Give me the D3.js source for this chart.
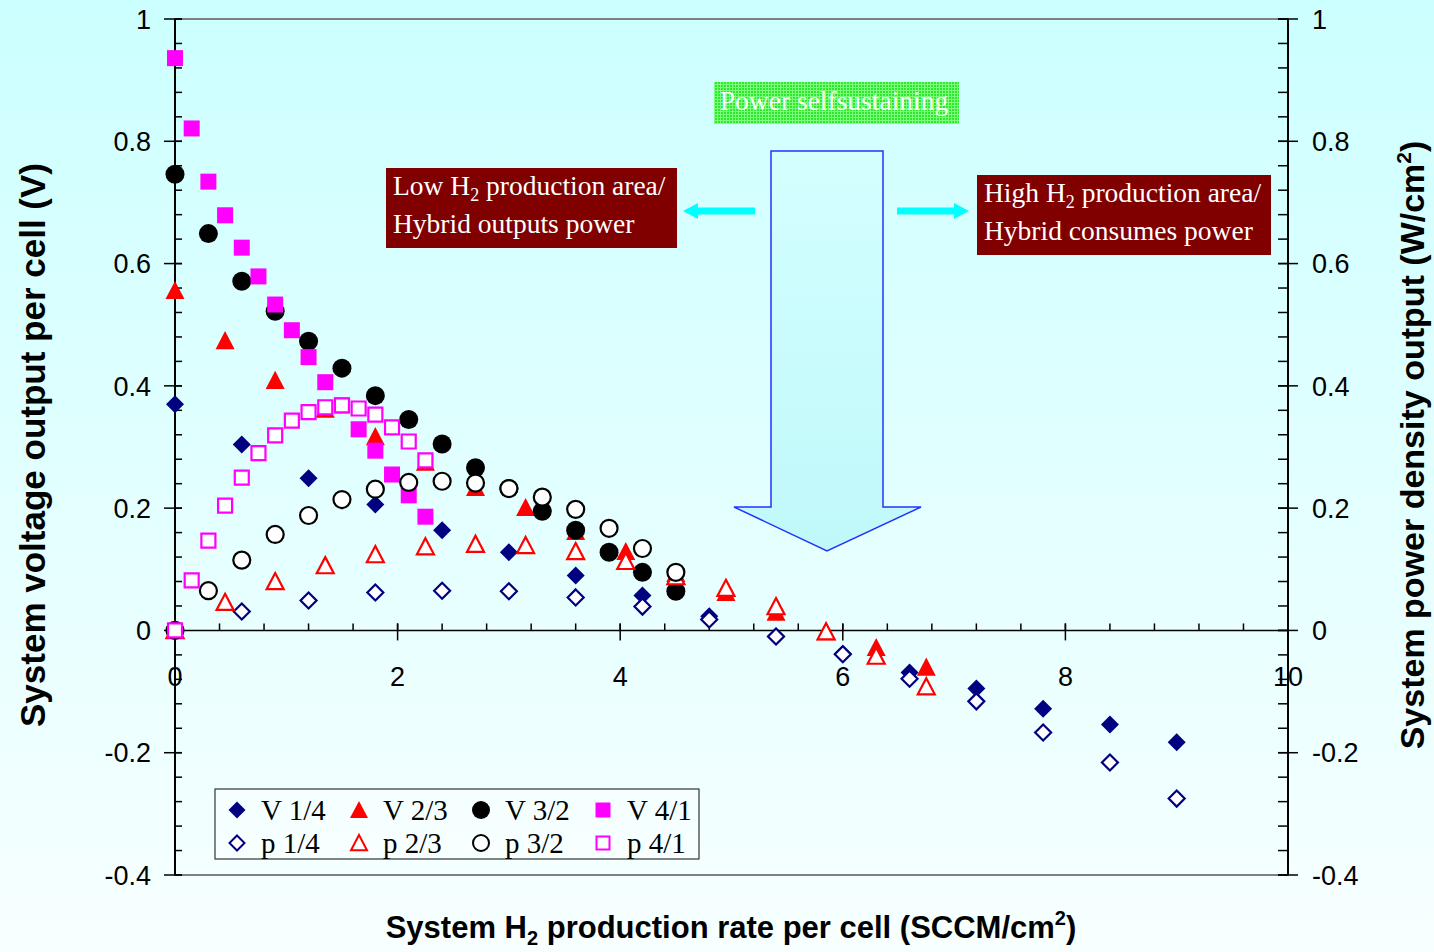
<!DOCTYPE html>
<html>
<head>
<meta charset="utf-8">
<script src="https://cdn.jsdelivr.net/npm/d3@7"></script>
<style>
  body { margin: 0; padding: 0; overflow: hidden; }
  svg { display: block; }
</style>
</head>
<body>
<div id="chart"></div>
<script>
// series data (x = H2 rate, v = voltage, p = power density)
var x14 = [0, 0.6, 1.2, 1.8, 2.4, 3.0, 3.6, 4.2, 4.8, 5.4, 6.0, 6.6, 7.2, 7.8, 8.4, 9.0];
var v14 = [0.370, 0.304, 0.249, 0.206, 0.164, 0.128, 0.090, 0.057, 0.023, -0.010, -0.038, -0.069, -0.095, -0.128, -0.154, -0.183];
var p14 = [0, 0.031, 0.049, 0.062, 0.065, 0.064, 0.054, 0.039, 0.018, -0.010, -0.039, -0.079, -0.116, -0.167, -0.216, -0.275];

var x23 = [0, 0.45, 0.9, 1.35, 1.8, 2.25, 2.7, 3.15, 3.6, 4.05, 4.5, 4.95, 5.4, 5.85, 6.3, 6.75];
var v23 = [0.556, 0.474, 0.409, 0.362, 0.317, 0.275, 0.234, 0.201, 0.162, 0.129, 0.093, 0.062, 0.030, -0.002, -0.028, -0.060];
var p23 = [0, 0.046, 0.080, 0.106, 0.124, 0.137, 0.141, 0.139, 0.129, 0.113, 0.088, 0.069, 0.039, -0.002, -0.042, -0.092];

var x32 = [0, 0.3, 0.6, 0.9, 1.2, 1.5, 1.8, 2.1, 2.4, 2.7, 3.0, 3.3, 3.6, 3.9, 4.2, 4.5];
var v32 = [0.746, 0.649, 0.571, 0.522, 0.473, 0.429, 0.384, 0.345, 0.305, 0.266, 0.232, 0.195, 0.164, 0.128, 0.095, 0.064];
var p32 = [0, 0.065, 0.115, 0.157, 0.188, 0.214, 0.231, 0.242, 0.244, 0.241, 0.232, 0.218, 0.198, 0.167, 0.134, 0.095];

var x41 = [0, 0.15, 0.3, 0.45, 0.6, 0.75, 0.9, 1.05, 1.2, 1.35, 1.5, 1.65, 1.8, 1.95, 2.1, 2.25];
var v41 = [0.936, 0.821, 0.734, 0.679, 0.626, 0.579, 0.533, 0.491, 0.447, 0.406, 0.368, 0.329, 0.294, 0.255, 0.221, 0.186];
var p41 = [0, 0.082, 0.147, 0.204, 0.250, 0.290, 0.319, 0.343, 0.357, 0.365, 0.368, 0.363, 0.353, 0.332, 0.309, 0.278];

var xTicks = [0, 2, 4, 6, 8, 10];
var yTicks = [-0.4, -0.2, 0, 0.2, 0.4, 0.6, 0.8, 1];

var width = 1434, height = 952;
var margins = { top: 19, right: 146, bottom: 77, left: 175 };
var chartWidth = width - margins.left - margins.right;
var chartHeight = height - margins.top - margins.bottom;

var svg = d3.select('#chart').append('svg')
    .attr('width', width)
    .attr('height', height);

var defs = svg.append('defs');
var bg = defs.append('linearGradient').attr('id', 'bg')
    .attr('x1', 0).attr('y1', 0).attr('x2', 0).attr('y2', 1);
bg.append('stop').attr('offset', '0%').attr('stop-color', '#ccffff');
bg.append('stop').attr('offset', '100%').attr('stop-color', '#f8ffff');

var arrowGrad = defs.append('linearGradient').attr('id', 'arrowGrad')
    .attr('x1', 0).attr('y1', 0).attr('x2', 0).attr('y2', 1);
arrowGrad.append('stop').attr('offset', '0%').attr('stop-color', '#d4ffff');
arrowGrad.append('stop').attr('offset', '100%').attr('stop-color', '#c0f8fa');

var pat = defs.append('pattern').attr('id', 'greenPat')
    .attr('width', 3).attr('height', 3).attr('patternUnits', 'userSpaceOnUse');
pat.append('rect').attr('width', 3).attr('height', 3).attr('fill', '#2ee82e');
pat.append('path').attr('d', 'M0,0.5H3M0.5,0V3').attr('stroke', '#7dff7d').attr('stroke-width', 1);

svg.append('rect').attr('width', width).attr('height', height).attr('fill', 'url(#bg)');

var chart = svg.append('g')
    .attr('transform', 'translate(' + margins.left + ',' + margins.top + ')');

var xScale = d3.scaleLinear().domain([0, 10]).range([0, chartWidth]);
var yScale = d3.scaleLinear().domain([-0.4, 1]).range([chartHeight, 0]);

var fmt = function(d) { return String(+d.toFixed(1)); };

// plot frame (grey top / bottom)
chart.append('rect')
    .attr('width', chartWidth).attr('height', chartHeight)
    .attr('fill', 'none').attr('stroke', '#808080').attr('stroke-width', 2);

var sansFont = '"Liberation Sans", Arial, sans-serif';
var serifFont = '"Liberation Serif", "Times New Roman", serif';

// left axis
var leftAxis = chart.append('g');
leftAxis.append('line').attr('x1', 0).attr('x2', 0).attr('y1', 0).attr('y2', chartHeight)
    .attr('stroke', '#000').attr('stroke-width', 2);
var minorY = d3.range(0, 36).map(function(i) { return -0.4 + i * 0.04; });
leftAxis.selectAll('.minor').data(minorY).enter().append('line')
    .attr('x1', 0).attr('x2', 7)
    .attr('y1', function(d) { return yScale(d); }).attr('y2', function(d) { return yScale(d); })
    .attr('stroke', '#000').attr('stroke-width', 1.5);
leftAxis.selectAll('.major').data(yTicks).enter().append('line')
    .attr('x1', -11).attr('x2', 7)
    .attr('y1', function(d) { return yScale(d); }).attr('y2', function(d) { return yScale(d); })
    .attr('stroke', '#000').attr('stroke-width', 1.5);
leftAxis.selectAll('text').data(yTicks).enter().append('text')
    .attr('x', -24).attr('y', function(d) { return yScale(d); })
    .attr('dy', '0.36em').attr('text-anchor', 'end')
    .style('font-family', sansFont).style('font-size', '27px')
    .text(fmt);

// right axis
var rightAxis = chart.append('g').attr('transform', 'translate(' + chartWidth + ',0)');
rightAxis.append('line').attr('x1', 0).attr('x2', 0).attr('y1', 0).attr('y2', chartHeight)
    .attr('stroke', '#000').attr('stroke-width', 2);
rightAxis.selectAll('.minor').data(minorY).enter().append('line')
    .attr('x1', -10).attr('x2', 0)
    .attr('y1', function(d) { return yScale(d); }).attr('y2', function(d) { return yScale(d); })
    .attr('stroke', '#000').attr('stroke-width', 1.5);
rightAxis.selectAll('.major').data(yTicks).enter().append('line')
    .attr('x1', -10).attr('x2', 10)
    .attr('y1', function(d) { return yScale(d); }).attr('y2', function(d) { return yScale(d); })
    .attr('stroke', '#000').attr('stroke-width', 1.5);
rightAxis.selectAll('text').data(yTicks).enter().append('text')
    .attr('x', 24).attr('y', function(d) { return yScale(d); })
    .attr('dy', '0.36em').attr('text-anchor', 'start')
    .style('font-family', sansFont).style('font-size', '27px')
    .text(fmt);

// x axis at y = 0
var xAxis = chart.append('g').attr('transform', 'translate(0,' + yScale(0) + ')');
xAxis.append('line').attr('x1', 0).attr('x2', chartWidth)
    .attr('stroke', '#000').attr('stroke-width', 1.5);
var minorX = d3.range(0, 26).map(function(i) { return i * 0.4; });
xAxis.selectAll('.minor').data(minorX).enter().append('line')
    .attr('x1', function(d) { return xScale(d); }).attr('x2', function(d) { return xScale(d); })
    .attr('y1', -7).attr('y2', 0)
    .attr('stroke', '#000').attr('stroke-width', 1.5);
xAxis.selectAll('.major').data(xTicks).enter().append('line')
    .attr('x1', function(d) { return xScale(d); }).attr('x2', function(d) { return xScale(d); })
    .attr('y1', -7).attr('y2', 10)
    .attr('stroke', '#000').attr('stroke-width', 1.5);

// symbols
var sym = {
    diamond: function(r) { return 'M0,' + (-r) + 'L' + r + ',0L0,' + r + 'L' + (-r) + ',0Z'; },
    triangle: function(r) { return 'M0,' + (-r) + 'L' + r + ',' + (r * 0.9) + 'L' + (-r) + ',' + (r * 0.9) + 'Z'; },
    circle: function(r) { return 'M' + r + ',0A' + r + ',' + r + ' 0 1,1 ' + (-r) + ',0A' + r + ',' + r + ' 0 1,1 ' + r + ',0Z'; },
    square: function(r) { return 'M' + (-r) + ',' + (-r) + 'H' + r + 'V' + r + 'H' + (-r) + 'Z'; }
};

var series = [
    { name: 'V 1/4', xs: x14, ys: v14, shape: 'diamond', r: 9, color: '#000080', filled: true },
    { name: 'V 2/3', xs: x23, ys: v23, shape: 'triangle', r: 9.5, color: '#ff0000', filled: true },
    { name: 'V 3/2', xs: x32, ys: v32, shape: 'circle', r: 9.5, color: '#000000', filled: true },
    { name: 'V 4/1', xs: x41, ys: v41, shape: 'square', r: 8, color: '#ff00ff', filled: true },
    { name: 'p 1/4', xs: x14, ys: p14, shape: 'diamond', r: 9, color: '#000080', filled: false },
    { name: 'p 2/3', xs: x23, ys: p23, shape: 'triangle', r: 9.5, color: '#ff0000', filled: false },
    { name: 'p 3/2', xs: x32, ys: p32, shape: 'circle', r: 9.5, color: '#000000', filled: false },
    { name: 'p 4/1', xs: x41, ys: p41, shape: 'square', r: 8, color: '#ff00ff', filled: false }
];

var marks = chart.append('g');
series.forEach(function(s) {
    var pts = s.xs.map(function(x, i) { return [x, s.ys[i]]; });
    marks.append('g').selectAll('path').data(pts).enter().append('path')
        .attr('transform', function(d) { return 'translate(' + xScale(d[0]) + ',' + yScale(d[1]) + ')'; })
        .attr('d', sym[s.shape](s.filled ? s.r : s.r - 1))
        .attr('fill', s.filled ? s.color : '#ffffff')
        .attr('stroke', s.filled ? 'none' : s.color)
        .attr('stroke-width', s.filled ? 0 : 2.2);
});

// x tick labels drawn over the markers
xAxis.selectAll('text').data(xTicks).enter().append('text')
    .attr('x', function(d) { return xScale(d); }).attr('y', 46)
    .attr('dy', '0.36em').attr('text-anchor', 'middle')
    .style('font-family', sansFont).style('font-size', '27px')
    .text(function(d) { return d; });

// legend
var legend = svg.append('g').attr('transform', 'translate(215,789)');
legend.append('rect').attr('width', 484).attr('height', 70)
    .attr('fill', '#ffffff').attr('fill-opacity', 0.35)
    .attr('stroke', '#333').attr('stroke-width', 1.2);
series.forEach(function(s, i) {
    var col = i % 4, row = Math.floor(i / 4);
    var gx = 22 + col * 122, gy = 21 + row * 33;
    legend.append('path')
        .attr('transform', 'translate(' + gx + ',' + gy + ')')
        .attr('d', sym[s.shape](s.filled ? s.r - 0.5 : s.r - 1.5))
        .attr('fill', s.filled ? s.color : '#ffffff')
        .attr('stroke', s.filled ? 'none' : s.color)
        .attr('stroke-width', s.filled ? 0 : 2);
    legend.append('text')
        .attr('x', gx + 24).attr('y', gy + 10)
        .style('font-family', serifFont).style('font-size', '29px')
        .text(s.name);
});

// annotations
var ann = svg.append('g');

ann.append('rect').attr('x', 714).attr('y', 82).attr('width', 245).attr('height', 42)
    .attr('fill', 'url(#greenPat)');
ann.append('text').attr('x', 834).attr('y', 110).attr('text-anchor', 'middle')
    .attr('fill', '#f8fff8')
    .style('font-family', serifFont).style('font-size', '27.5px')
    .text('Power selfsustaining');

function redBox(x, y, w, line1a, line1b, line2) {
    ann.append('rect').attr('x', x).attr('y', y).attr('width', w).attr('height', 80)
        .attr('fill', '#800000');
    var t1 = ann.append('text').attr('x', x + 7).attr('y', y + 27)
        .attr('fill', '#ffffff')
        .style('font-family', serifFont).style('font-size', '27.5px');
    t1.append('tspan').text(line1a);
    t1.append('tspan').attr('dy', 6).style('font-size', '18px').text('2');
    t1.append('tspan').attr('dy', -6).text(line1b);
    ann.append('text').attr('x', x + 7).attr('y', y + 65)
        .attr('fill', '#ffffff')
        .style('font-family', serifFont).style('font-size', '27.5px')
        .text(line2);
}
redBox(386, 168, 291, 'Low H', ' production area/', 'Hybrid outputs power');
redBox(977, 175, 294, 'High H', ' production area/', 'Hybrid consumes power');

// cyan side arrows
ann.append('path')
    .attr('d', 'M755,207.5H698V203L683,211L698,219V214.5H755Z')
    .attr('fill', '#00ffff');
ann.append('path')
    .attr('d', 'M897,207.5H954V203L969,211L954,219V214.5H897Z')
    .attr('fill', '#00ffff');

// big down arrow
ann.append('path')
    .attr('d', 'M771,151H883V507H921L827,551L734,507H771Z')
    .attr('fill', 'url(#arrowGrad)')
    .attr('stroke', '#2233ff').attr('stroke-width', 1.5);

// axis titles
svg.append('text')
    .attr('transform', 'translate(45,445) rotate(-90)')
    .attr('text-anchor', 'middle')
    .style('font-family', sansFont).style('font-size', '35px').style('font-weight', 'bold')
    .text('System voltage output per cell (V)');

var rightTitle = svg.append('text')
    .attr('transform', 'translate(1424,445) rotate(-90)')
    .attr('text-anchor', 'middle')
    .style('font-family', sansFont).style('font-size', '34px').style('font-weight', 'bold');
rightTitle.append('tspan').text('System power density output (W/cm');
rightTitle.append('tspan').attr('dy', -13).style('font-size', '21px').text('2');
rightTitle.append('tspan').attr('dy', 13).text(')');

var xTitle = svg.append('text')
    .attr('x', 731).attr('y', 938)
    .attr('text-anchor', 'middle')
    .style('font-family', sansFont).style('font-size', '31px').style('font-weight', 'bold');
xTitle.append('tspan').text('System H');
xTitle.append('tspan').attr('dy', 7).style('font-size', '20px').text('2');
xTitle.append('tspan').attr('dy', -7).text(' production rate per cell (SCCM/cm');
xTitle.append('tspan').attr('dy', -13).style('font-size', '20px').text('2');
xTitle.append('tspan').attr('dy', 13).text(')');
</script>
</body>
</html>
